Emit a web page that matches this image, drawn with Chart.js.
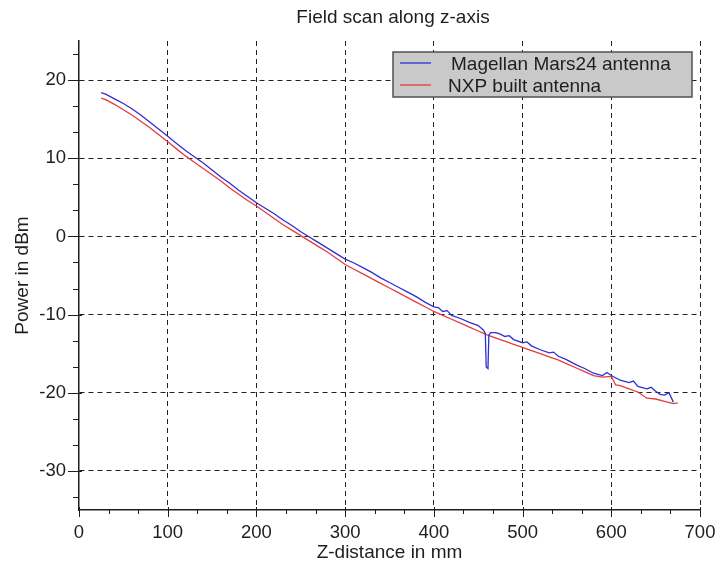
<!DOCTYPE html>
<html>
<head>
<meta charset="utf-8">
<script src="https://cdn.jsdelivr.net/npm/chart.js@4.4.1/dist/chart.umd.min.js"></script>
<style>
  html, body { margin: 0; padding: 0; background: #fff; }
  #wrap { width: 719px; height: 565px; }
</style>
</head>
<body>
<div id="wrap"><canvas id="scan" width="719" height="565"></canvas></div>
<script>
// Field scan along the z axis: received power vs. distance, two antennas.

const seriesNames = ["Magellan Mars24 antenna", "NXP built antenna"];

const zMagellan = [25, 30, 40, 50, 60, 70, 80, 90, 100, 110, 120, 130, 140, 150, 160, 170, 180, 190,
  200, 210, 220, 230, 240, 250, 260, 270, 280, 290, 300, 310, 320, 330, 340, 350, 360, 370, 380, 390,
  400, 405, 410, 415, 420, 430, 440, 450, 456, 458, 459, 461, 462, 464, 467, 470, 475, 480, 485, 490,
  500, 505, 510, 520, 530, 535, 540, 550, 560, 570, 580, 590, 595, 600, 610, 620, 625, 630, 640, 645,
  650, 655, 660, 665, 670];
const pMagellan = [18.4, 18.2, 17.6, 17.0, 16.3, 15.5, 14.6, 13.7, 12.8, 11.9, 11.0, 10.2, 9.4, 8.5,
  7.6, 6.8, 5.9, 5.1, 4.3, 3.6, 2.9, 2.1, 1.4, 0.6, -0.1, -0.8, -1.5, -2.2, -2.9, -3.4, -4.0, -4.6,
  -5.3, -5.9, -6.5, -7.1, -7.7, -8.4, -9.0, -9.1, -9.6, -9.5, -10.1, -10.5, -11.0, -11.4, -12.0, -12.4,
  -16.7, -16.9, -12.6, -12.3, -12.3, -12.3, -12.5, -12.8, -12.7, -13.2, -13.6, -13.5, -14.0, -14.5,
  -14.9, -14.8, -15.3, -15.8, -16.4, -16.9, -17.5, -17.8, -17.4, -17.8, -18.4, -18.7, -18.5, -19.2,
  -19.5, -19.3, -19.8, -20.2, -20.3, -20.0, -21.2];

const zNxp = [25, 30, 40, 50, 60, 70, 80, 90, 100, 110, 120, 130, 140, 150, 160, 170, 180, 190, 200,
  210, 220, 230, 240, 250, 260, 270, 280, 290, 300, 310, 320, 330, 340, 350, 360, 370, 380, 390, 400,
  410, 420, 430, 440, 450, 460, 470, 480, 490, 500, 510, 520, 530, 540, 550, 560, 570, 580, 590, 600,
  605, 610, 620, 630, 640, 650, 660, 670, 675];
const pNxp = [17.7, 17.5, 16.9, 16.2, 15.5, 14.7, 13.9, 13.0, 12.1, 11.2, 10.3, 9.5, 8.7, 7.9, 7.1,
  6.2, 5.4, 4.6, 3.9, 3.1, 2.3, 1.5, 0.8, 0.1, -0.6, -1.3, -2.0, -2.8, -3.6, -4.2, -4.8, -5.4, -6.0,
  -6.6, -7.2, -7.8, -8.4, -9.0, -9.6, -10.1, -10.6, -11.1, -11.6, -12.1, -12.6, -13.0, -13.4, -13.8,
  -14.2, -14.6, -15.0, -15.4, -15.8, -16.3, -16.8, -17.3, -17.8, -18.0, -17.9, -19.0, -19.1, -19.5,
  -19.9, -20.7, -20.8, -21.1, -21.4, -21.3];

const xLabels = [0, 100, 200, 300, 400, 500, 600, 700];
const yLabels = [-30, -20, -10, 0, 10, 20];

const FONT = "'Liberation Sans', Arial, sans-serif";
const INK = "#1e1e1e";

function isLabelled(v, list) {
  return list.some((l) => Math.abs(l - v) < 1e-6);
}

function pairs(xs, ys) {
  return xs.map((x, i) => ({ x, y: ys[i] }));
}

// labelled ticks plus two minor ticks in every interval, clipped to the axis range
function withThirds(labels, min, max) {
  const step = labels[1] - labels[0];
  const out = [];
  for (let v = labels[0] - step; v <= labels[labels.length - 1] + step + 1e-9; v += step) {
    [0, 1, 2].forEach((k) => {
      const t = v + (k * step) / 3;
      if (t >= min - 1e-9 && t <= max + 1e-9) out.push({ value: t });
    });
  }
  return out;
}

// title, tick marks and the grey legend box
const scanDecor = {
  id: "scanDecor",
  afterDraw(chart) {
    const { ctx, scales: { x, y } } = chart;
    ctx.save();
    ctx.strokeStyle = INK;
    ctx.lineWidth = 1;

    x.ticks.forEach((t) => {
      const px = Math.round(x.getPixelForValue(t.value)) + 0.5;
      const major = isLabelled(t.value, xLabels);
      ctx.beginPath();
      ctx.moveTo(px, y.bottom - (major ? 3 : 0));
      ctx.lineTo(px, y.bottom + (major ? 7 : 4));
      ctx.stroke();
    });
    y.ticks.forEach((t) => {
      const py = Math.round(y.getPixelForValue(t.value)) + 0.5;
      const major = isLabelled(t.value, yLabels);
      ctx.beginPath();
      ctx.moveTo(x.left - (major ? 11 : 6), py);
      ctx.lineTo(x.left + (major ? 3 : 0), py);
      ctx.stroke();
    });

    ctx.fillStyle = INK;
    ctx.font = "19px " + FONT;
    ctx.textAlign = "center";
    ctx.textBaseline = "middle";
    ctx.fillText("Field scan along z-axis", 393, 18);

    // legend
    ctx.fillStyle = "#c9c9c9";
    ctx.fillRect(393, 52, 299, 45);
    ctx.strokeStyle = "#505050";
    ctx.lineWidth = 1.5;
    ctx.strokeRect(393, 52, 299, 45);
    chart.data.datasets.forEach((ds, i) => {
      const ly = 63 + i * 22;
      ctx.strokeStyle = ds.borderColor;
      ctx.lineWidth = 1.3;
      ctx.beginPath();
      ctx.moveTo(400, ly);
      ctx.lineTo(431, ly);
      ctx.stroke();
      ctx.fillStyle = INK;
      ctx.textAlign = "left";
      ctx.fillText(ds.label, i === 0 ? 451 : 448, ly + 2);
    });
    ctx.restore();
  },
};

const tickFont = { family: FONT, size: 18.5 };

new Chart(document.getElementById("scan"), {
  type: "line",
  data: {
    datasets: [
      {
        label: seriesNames[0],
        data: pairs(zMagellan, pMagellan),
        borderColor: "#2f2fd2",
        borderWidth: 1.3,
        pointRadius: 0,
        tension: 0,
      },
      {
        label: seriesNames[1],
        data: pairs(zNxp, pNxp),
        borderColor: "#e53c3c",
        borderWidth: 1.3,
        pointRadius: 0,
        tension: 0,
      },
    ],
  },
  options: {
    responsive: false,
    animation: false,
    layout: { padding: { top: 41, right: 19, left: 0, bottom: 0 } },
    plugins: {
      legend: { display: false },
      title: { display: false },
      tooltip: { enabled: false },
    },
    scales: {
      x: {
        type: "linear",
        min: 0,
        max: 700,
        afterFit: (s) => {
          s.height = 55;
          s.paddingLeft = 0;
          s.paddingRight = 0;
        },
        afterBuildTicks: (s) => { s.ticks = withThirds(xLabels, 0, 700); },
        ticks: {
          autoSkip: false,
          maxRotation: 0,
          padding: 12,
          color: INK,
          font: tickFont,
          callback: (v) => (isLabelled(v, xLabels) ? String(Math.round(v)) : ""),
        },
        grid: {
          drawTicks: false,
          lineWidth: 1,
          color: (c) => (c.tick && isLabelled(c.tick.value, xLabels) && c.tick.value > 0 ? "#222" : "rgba(0,0,0,0)"),
        },
        border: { display: true, color: INK, width: 1.5, dash: [5, 4] },
        title: {
          display: true,
          text: "Z-distance in mm",
          color: INK,
          font: { family: FONT, size: 19, lineHeight: 1.2 },
          padding: { top: 0, bottom: 1 },
        },
      },
      y: {
        min: -35,
        max: 25,
        afterFit: (s) => {
          s.width = 79;
          s.paddingTop = 0;
          s.paddingBottom = 0;
        },
        afterBuildTicks: (s) => { s.ticks = withThirds(yLabels, -35, 25); },
        ticks: {
          autoSkip: false,
          padding: 13,
          color: INK,
          font: tickFont,
          callback: (v) => (isLabelled(v, yLabels) ? String(Math.round(v)) : ""),
        },
        grid: {
          drawTicks: false,
          lineWidth: 1,
          color: (c) => (c.tick && isLabelled(c.tick.value, yLabels) ? "#222" : "rgba(0,0,0,0)"),
        },
        border: { display: true, color: INK, width: 1.5, dash: [5, 4] },
        title: {
          display: true,
          text: "Power in dBm",
          color: INK,
          font: { family: FONT, size: 19, lineHeight: 1.2 },
          padding: { top: 11, bottom: 0 },
        },
      },
    },
  },
  plugins: [scanDecor],
});
</script>
</body>
</html>
